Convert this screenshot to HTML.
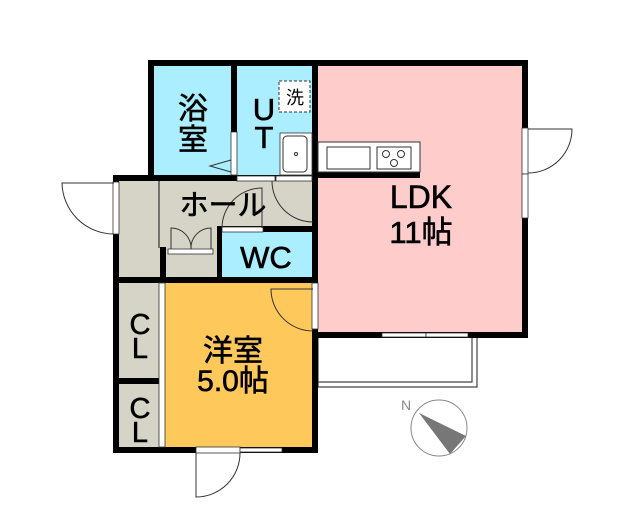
<!DOCTYPE html>
<html><head><meta charset="utf-8"><style>
html,body{margin:0;padding:0;background:#fff;width:640px;height:512px;overflow:hidden}
svg{display:block}
text{font-family:"Liberation Sans","Noto Sans CJK JP",sans-serif;fill:#000}
.l{stroke:#000;stroke-width:0.6}
</style></head><body>
<svg width="640" height="512" viewBox="0 0 640 512" xmlns="http://www.w3.org/2000/svg">
<rect x="318" y="66" width="206" height="268" fill="#ffcccc"/>
<rect x="154" y="66" width="80" height="110" fill="#aaeeff"/>
<rect x="236" y="66" width="78" height="110" fill="#aaeeff"/>
<rect x="119" y="180" width="195" height="100" fill="#d6d3c7"/>
<rect x="220" y="231" width="94" height="48" fill="#aaeeff"/>
<rect x="119" y="282" width="42" height="168" fill="#d6d3c7"/>
<rect x="164" y="282" width="150" height="167" fill="#ffc85a"/>
<path d="M318 338 V387 H477 V338" fill="none" stroke="#444" stroke-width="1.2"/>
<path d="M318 382 H472 V338" fill="none" stroke="#444" stroke-width="1.2"/>
<g fill="#000">
<rect x="148" y="60" width="380" height="6"/>
<rect x="148" y="60" width="6" height="121"/>
<rect x="231" y="60" width="6" height="121"/>
<rect x="312" y="60" width="6" height="393"/>
<rect x="522" y="60" width="6" height="278"/>
<rect x="312" y="332" width="216" height="6"/>
<rect x="113" y="175" width="205" height="6"/>
<rect x="113" y="175" width="6" height="278"/>
<rect x="113" y="277" width="205" height="6"/>
<rect x="113" y="447" width="205" height="6"/>
<rect x="113" y="378" width="50" height="6"/>
<rect x="217" y="226" width="101" height="6"/>
<rect x="217" y="226" width="5" height="57"/>
<rect x="160" y="247" width="6" height="36"/>
<rect x="318" y="172" width="102" height="6"/>
</g>
<line x1="159" y1="181" x2="159" y2="248" stroke="#333" stroke-width="1.2"/>
<rect x="159" y="283" width="6" height="164" fill="#fff" stroke="#333" stroke-width="0.8"/>
<g fill="#fff" stroke="#333" stroke-width="0.8">
<rect x="113" y="182" width="6" height="52"/>
<rect x="522" y="128" width="6" height="46"/>
<rect x="522" y="174" width="6" height="44"/>
<rect x="196" y="447" width="44" height="6"/>
<rect x="240" y="448" width="42" height="4"/>
<rect x="382" y="333" width="44" height="4"/>
<rect x="426" y="333" width="42" height="4"/>
<rect x="231" y="132" width="6" height="43"/>
<rect x="237" y="176" width="38" height="5"/>
<rect x="276" y="176" width="36" height="5"/>
<rect x="312" y="283" width="6" height="46"/>
<rect x="222" y="227" width="41" height="5"/>
<rect x="168" y="249" width="45" height="5"/>
</g>
<g fill="none" stroke="#333" stroke-width="1">
<path d="M114 183 H62 A52 52 0 0 0 114 234"/>
<path d="M528 129 H572 A44 44 0 0 1 528 173"/>
<path d="M196 453 V497 A44 44 0 0 0 240 453"/>
<path d="M272 181 A41 41 0 0 0 313 222"/>
<path d="M262 228 V188 A40 40 0 0 0 222 228"/>
<path d="M313 289 H271 A42 42 0 0 0 313 331"/>
<path d="M171 249 V228 A20 20 0 0 1 191 249"/>
<path d="M211 249 V228 A20 20 0 0 0 191 249"/>
<path d="M231 160 L210 166 L231 172"/>
</g>
<rect x="279" y="81" width="31" height="31" fill="#fff" stroke="#333" stroke-width="1" stroke-dasharray="3,2"/>
<text x="295" y="104" font-size="18" text-anchor="middle">洗</text>
<rect x="280" y="133" width="32" height="42" fill="#fff" stroke="#333" stroke-width="0.8"/>
<rect x="283" y="136" width="24" height="36" rx="4" fill="#fff" stroke="#333" stroke-width="1"/>
<circle cx="296" cy="154" r="1.5" fill="none" stroke="#333"/>
<rect x="318" y="142" width="102" height="30" fill="#fff" stroke="#333" stroke-width="1"/>
<rect x="327" y="147" width="43" height="22" fill="#fff" stroke="#333" stroke-width="1"/>
<rect x="377" y="147" width="34" height="22" fill="#fff" stroke="#333" stroke-width="1"/>
<g fill="none" stroke="#333" stroke-width="1"><circle cx="386" cy="154" r="3.5"/><circle cx="401" cy="154" r="3.5"/><circle cx="394" cy="163" r="3.5"/></g>
<circle cx="439" cy="428" r="28" fill="#fff" stroke="#888" stroke-width="1"/>
<path d="M419 413 L466 436 L450 454 Z" fill="#777"/>
<text x="406" y="410" font-size="14" style="fill:#888" text-anchor="middle">N</text>
<g class="l">
<text x="193" y="119" font-size="30" text-anchor="middle">浴</text>
<text x="193" y="150" font-size="30" text-anchor="middle">室</text>
<text x="264" y="120" font-size="31" text-anchor="middle">U</text>
<text x="264" y="148" font-size="31" text-anchor="middle">T</text>
<text x="223" y="215" font-size="29" text-anchor="middle">ホール</text>
<text x="266" y="268" font-size="31" text-anchor="middle">WC</text>
<text x="421" y="208" font-size="32" text-anchor="middle">LDK</text>
<text x="421" y="243" font-size="31" text-anchor="middle">11帖</text>
<text x="233" y="361" font-size="30" text-anchor="middle">洋室</text>
<text x="233" y="391" font-size="30" text-anchor="middle">5.0帖</text>
<text x="140" y="334" font-size="29" text-anchor="middle">C</text>
<text x="140" y="358" font-size="29" text-anchor="middle">L</text>
<text x="140" y="418" font-size="29" text-anchor="middle">C</text>
<text x="140" y="442" font-size="29" text-anchor="middle">L</text>
</g>
</svg>
</body></html>
